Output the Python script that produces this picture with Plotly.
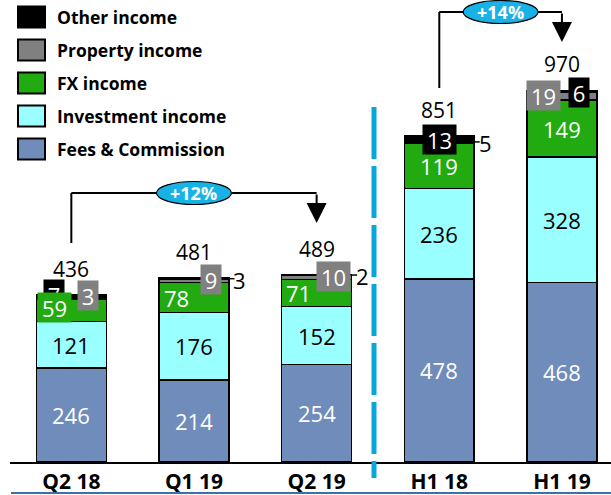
import plotly.graph_objects as go

# ---------------- data ----------------
categories = ["Q2 18", "Q1 19", "Q2 19", "H1 18", "H1 19"]
fees = [246, 214, 254, 478, 468]
investment = [121, 176, 152, 236, 328]
fx = [59, 78, 71, 119, 149]
property_inc = [3, 9, 10, 5, 19]
other = [7, 3, 2, 13, 6]
totals = [436, 481, 489, 851, 970]
growth_labels = ["+12%", "+14%"]
growth_pairs = [(0, 2), (3, 4)]

series_names = ["Fees & Commission", "Investment income", "FX income",
                "Property income", "Other income"]
series_values = [fees, investment, fx, property_inc, other]
colors = ["#6f8cba", "#99ffff", "#22aa11", "#808080", "#000000"]

# ---------------- geometry ----------------
W, H = 611, 495
ML, MR, MT, MB = 10, 0, 0, 33
PW, PH = W - ML - MR, H - MT - MB
YMAX = 1206
UPP = YMAX / PH          # data units per pixel
XR = (-0.5, 4.4)
BARW = 0.57

def pxx(p):  # pixel x -> paper
    return (p - ML) / PW

def pxy(p):  # pixel y -> paper
    return (MT + PH - p) / PH

def yd(p):   # pixel y -> data y
    return (MT + PH - p) * UPP

FONT = "Open Sans"

fig = go.Figure()
for name, vals, col in zip(series_names, series_values, colors):
    fig.add_trace(go.Bar(
        x=categories, y=vals, name=name, width=BARW,
        marker=dict(color=col, line=dict(color="black", width=1.5)),
        showlegend=False, hoverinfo="x+y+name"))

ann = []
shapes = []

cum_fees = fees
cum_inv = [a + b for a, b in zip(fees, investment)]
cum_fx = [a + b for a, b in zip(cum_inv, fx)]
cum_prop = [a + b for a, b in zip(cum_fx, property_inc)]
stack_top = [a + b for a, b in zip(cum_prop, other)]

# segment labels
for i, c in enumerate(categories):
    ann.append(dict(x=c, y=fees[i] / 2, text=str(fees[i]), showarrow=False,
                    font=dict(family=FONT, size=22, color="white")))
    ann.append(dict(x=c, y=cum_fees[i] + investment[i] / 2, text=str(investment[i]),
                    showarrow=False, font=dict(family=FONT, size=22, color="black")))

fx_xshift = [-17, -17, -18, 0, 0]
fx_yshift = [2.5, 0, 0, 0, 0]

def box(x, y, text, bg, xs, ys, font_color="white"):
    return dict(x=x, y=y, text=text, showarrow=False, xshift=xs, yshift=ys,
                bgcolor=bg, borderpad=3.5, width=13 * len(text), height=22,
                font=dict(family=FONT, size=22, color=font_color))

# Other-income boxes (black)
other_box = {0: (-17, 0.5), 3: (0, -3), 4: (17, -2.5)}
for i, (xs, ys) in other_box.items():
    ann.append(box(categories[i], stack_top[i], str(other[i]), "black", xs, ys))

# FX labels (drawn after the Q2 18 "other" box so they overlap it)
for i, c in enumerate(categories):
    a = dict(x=c, y=cum_inv[i] + fx[i] / 2, text=str(fx[i]), showarrow=False,
             xshift=fx_xshift[i], yshift=fx_yshift[i],
             font=dict(family=FONT, size=22, color="white"))
    if i == 0:
        a.update(bgcolor=colors[2], borderpad=2.5, width=28, height=24)
    ann.append(a)

# Property-income boxes (grey)
prop_box = {0: (16.5, -1), 1: (17, -1), 2: (17, -2), 4: (-18, -5.5)}
for i, (xs, ys) in prop_box.items():
    ann.append(box(categories[i], stack_top[i], str(property_inc[i]), "#808080", xs, ys))

# plain small labels with leader lines
plain = [  # (index, value, segment mid y)
    (1, other[1], cum_prop[1] + other[1] / 2),
    (2, other[2], cum_prop[2] + other[2] / 2),
    (3, property_inc[3], cum_fx[3] + property_inc[3] / 2),
]
for i, v, ymid in plain:
    ann.append(dict(x=categories[i], y=ymid, text=str(v), showarrow=False,
                    xshift=46, xanchor="center", yshift=-1,
                    font=dict(family=FONT, size=22, color="black")))
    shapes.append(dict(type="line", xref="x", yref="y",
                       x0=i + BARW / 2, x1=i + BARW / 2 + 0.045, y0=ymid, y1=ymid,
                       line=dict(color="black", width=1.5)))

# totals
for i, c in enumerate(categories):
    ann.append(dict(x=c, y=stack_top[i], text=str(totals[i]), showarrow=False,
                    yshift=26, font=dict(family=FONT, size=21, color="black")))

# growth brackets
bracket_px = [(243, 193, 223), (88, 12, 42)]  # start, level, arrow tip (pixels)
for (a, b), lab, (ps, pl, pt) in zip(growth_pairs, growth_labels, bracket_px):
    ys, yl, yt = yd(ps), yd(pl), yd(pt)
    shapes.append(dict(type="line", xref="x", yref="y", x0=a, x1=a, y0=ys, y1=yl,
                       line=dict(color="black", width=2)))
    shapes.append(dict(type="line", xref="x", yref="y", x0=a, x1=b, y0=yl, y1=yl,
                       line=dict(color="black", width=2)))
    ann.append(dict(x=b, y=yt, ax=b, ay=yl, axref="x", ayref="y", xref="x", yref="y",
                    text="", showarrow=True, arrowhead=2, arrowsize=2,
                    arrowwidth=2, arrowcolor="black", standoff=0))
    xm = (a + b) / 2
    hw = 37.5 / (PW / (XR[1] - XR[0]))
    hh = 11.5 * UPP
    shapes.append(dict(type="circle", xref="x", yref="y", x0=xm - hw, x1=xm + hw,
                       y0=yl - hh, y1=yl + hh, fillcolor="#19b2e6",
                       line=dict(color="black", width=1.2), layer="above"))
    ann.append(dict(x=xm, y=yl, text="<b>" + lab + "</b>", showarrow=False,
                    font=dict(family=FONT, size=18, color="white")))

# dashed divider
shapes.append(dict(type="line", xref="paper", yref="paper",
                   x0=pxx(374), x1=pxx(374), y0=pxy(107), y1=pxy(478),
                   line=dict(color="#0aa6d8", width=5, dash="52px,7px")))
# bottom blue rule
shapes.append(dict(type="line", xref="paper", yref="paper",
                   x0=pxx(11), x1=1, y0=pxy(493), y1=pxy(493),
                   line=dict(color="#3f6fa8", width=2)))

# custom legend
leg_y = [17, 50, 83, 116, 149]
for k, (name, col) in enumerate(zip(series_names[::-1], colors[::-1])):
    cy = leg_y[k]
    shapes.append(dict(type="rect", xref="paper", yref="paper",
                       x0=pxx(18), x1=pxx(45), y0=pxy(cy - 10.5), y1=pxy(cy + 10.5),
                       fillcolor=col, line=dict(color="black", width=2)))
    ann.append(dict(xref="paper", yref="paper", x=pxx(55), y=pxy(cy), text="<b>" + name + "</b>",
                    showarrow=False, xanchor="left", yanchor="middle",
                    font=dict(family=FONT, size=17.5, color="black")))

fig.update_layout(
    width=W, height=H, barmode="stack",
    margin=dict(l=ML, r=MR, t=MT, b=MB, autoexpand=False),
    paper_bgcolor="white", plot_bgcolor="white",
    xaxis=dict(range=list(XR), showline=True, linecolor="black", linewidth=2,
               showgrid=False, ticks="", fixedrange=True,
               tickfont=dict(family=FONT, size=21, color="black", weight="bold")),
    yaxis=dict(range=[0, YMAX], visible=False, showgrid=False, fixedrange=True),
    annotations=ann, shapes=shapes, showlegend=False,
)

fig.write_html("out.html", config={"displayModeBar": False},
               post_script="document.body.style.margin='0';")
